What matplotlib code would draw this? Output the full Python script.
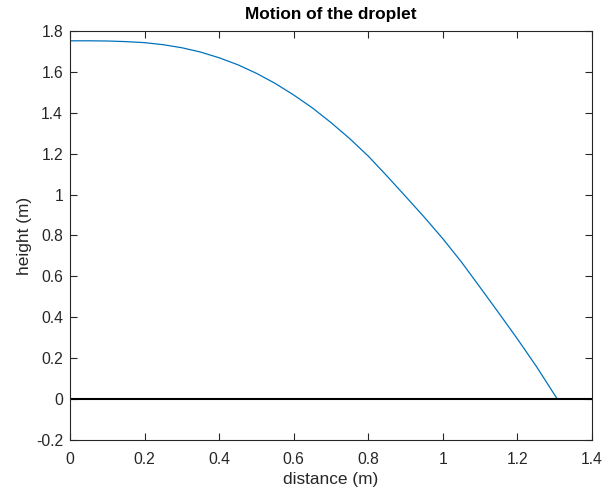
import matplotlib
matplotlib.use("Agg")
import matplotlib.pyplot as plt
from matplotlib.ticker import FixedLocator, FixedFormatter

plt.rcParams['font.family'] = ['Liberation Sans', 'DejaVu Sans']

# Droplet trajectory (distance, height) in metres
distance = [0.0, 0.05, 0.1, 0.15, 0.2, 0.25, 0.3, 0.35, 0.4, 0.45, 0.5,
            0.55, 0.6, 0.65, 0.7, 0.75, 0.8, 0.85, 0.9, 0.95, 1.0, 1.05,
            1.1, 1.15, 1.2, 1.25, 1.3, 1.307]
height = [1.752, 1.752, 1.751, 1.748, 1.743, 1.733, 1.718, 1.697, 1.669,
          1.635, 1.593, 1.544, 1.487, 1.424, 1.352, 1.274, 1.188, 1.091,
          0.991, 0.890, 0.784, 0.670, 0.546, 0.421, 0.294, 0.162, 0.020,
          0.0]

x_ticks = [0, 0.2, 0.4, 0.6, 0.8, 1.0, 1.2, 1.4]
x_tick_labels = ['0', '0.2', '0.4', '0.6', '0.8', '1', '1.2', '1.4']
y_ticks = [-0.2, 0, 0.2, 0.4, 0.6, 0.8, 1.0, 1.2, 1.4, 1.6, 1.8]
y_tick_labels = ['-0.2', '0', '0.2', '0.4', '0.6', '0.8', '1', '1.2', '1.4',
                 '1.6', '1.8']

fig = plt.figure(figsize=(6.02, 4.95), dpi=100)
ax = fig.add_axes([0.1163, 0.1111, 0.8671, 0.8263])

ax.plot(distance, height, color='#0072BD', linewidth=0.9)
ax.axhline(0, color='black', linewidth=1.5)

ax.set_xlim(0, 1.4)
ax.set_ylim(-0.2, 1.8)
ax.xaxis.set_major_locator(FixedLocator(x_ticks))
ax.xaxis.set_major_formatter(FixedFormatter(x_tick_labels))
ax.yaxis.set_major_locator(FixedLocator(y_ticks))
ax.yaxis.set_major_formatter(FixedFormatter(y_tick_labels))

ax.tick_params(direction='in', length=5, width=0.8, top=True, right=True,
               labelsize=11.3, colors='#262626')
ax.tick_params(axis='x', pad=8.5)
ax.tick_params(axis='y', pad=5)
for s in ax.spines.values():
    s.set_color('#262626')
    s.set_linewidth(0.8)

ax.set_title('Motion of the droplet', fontsize=12.4, fontweight='bold',
             color='black', pad=8.5)
ax.set_xlabel('distance (m)', fontsize=12.4, color='#262626', labelpad=4)
ax.set_ylabel('height (m)', fontsize=12.4, color='#262626', labelpad=3)

fig.savefig('out.png', dpi=100)
